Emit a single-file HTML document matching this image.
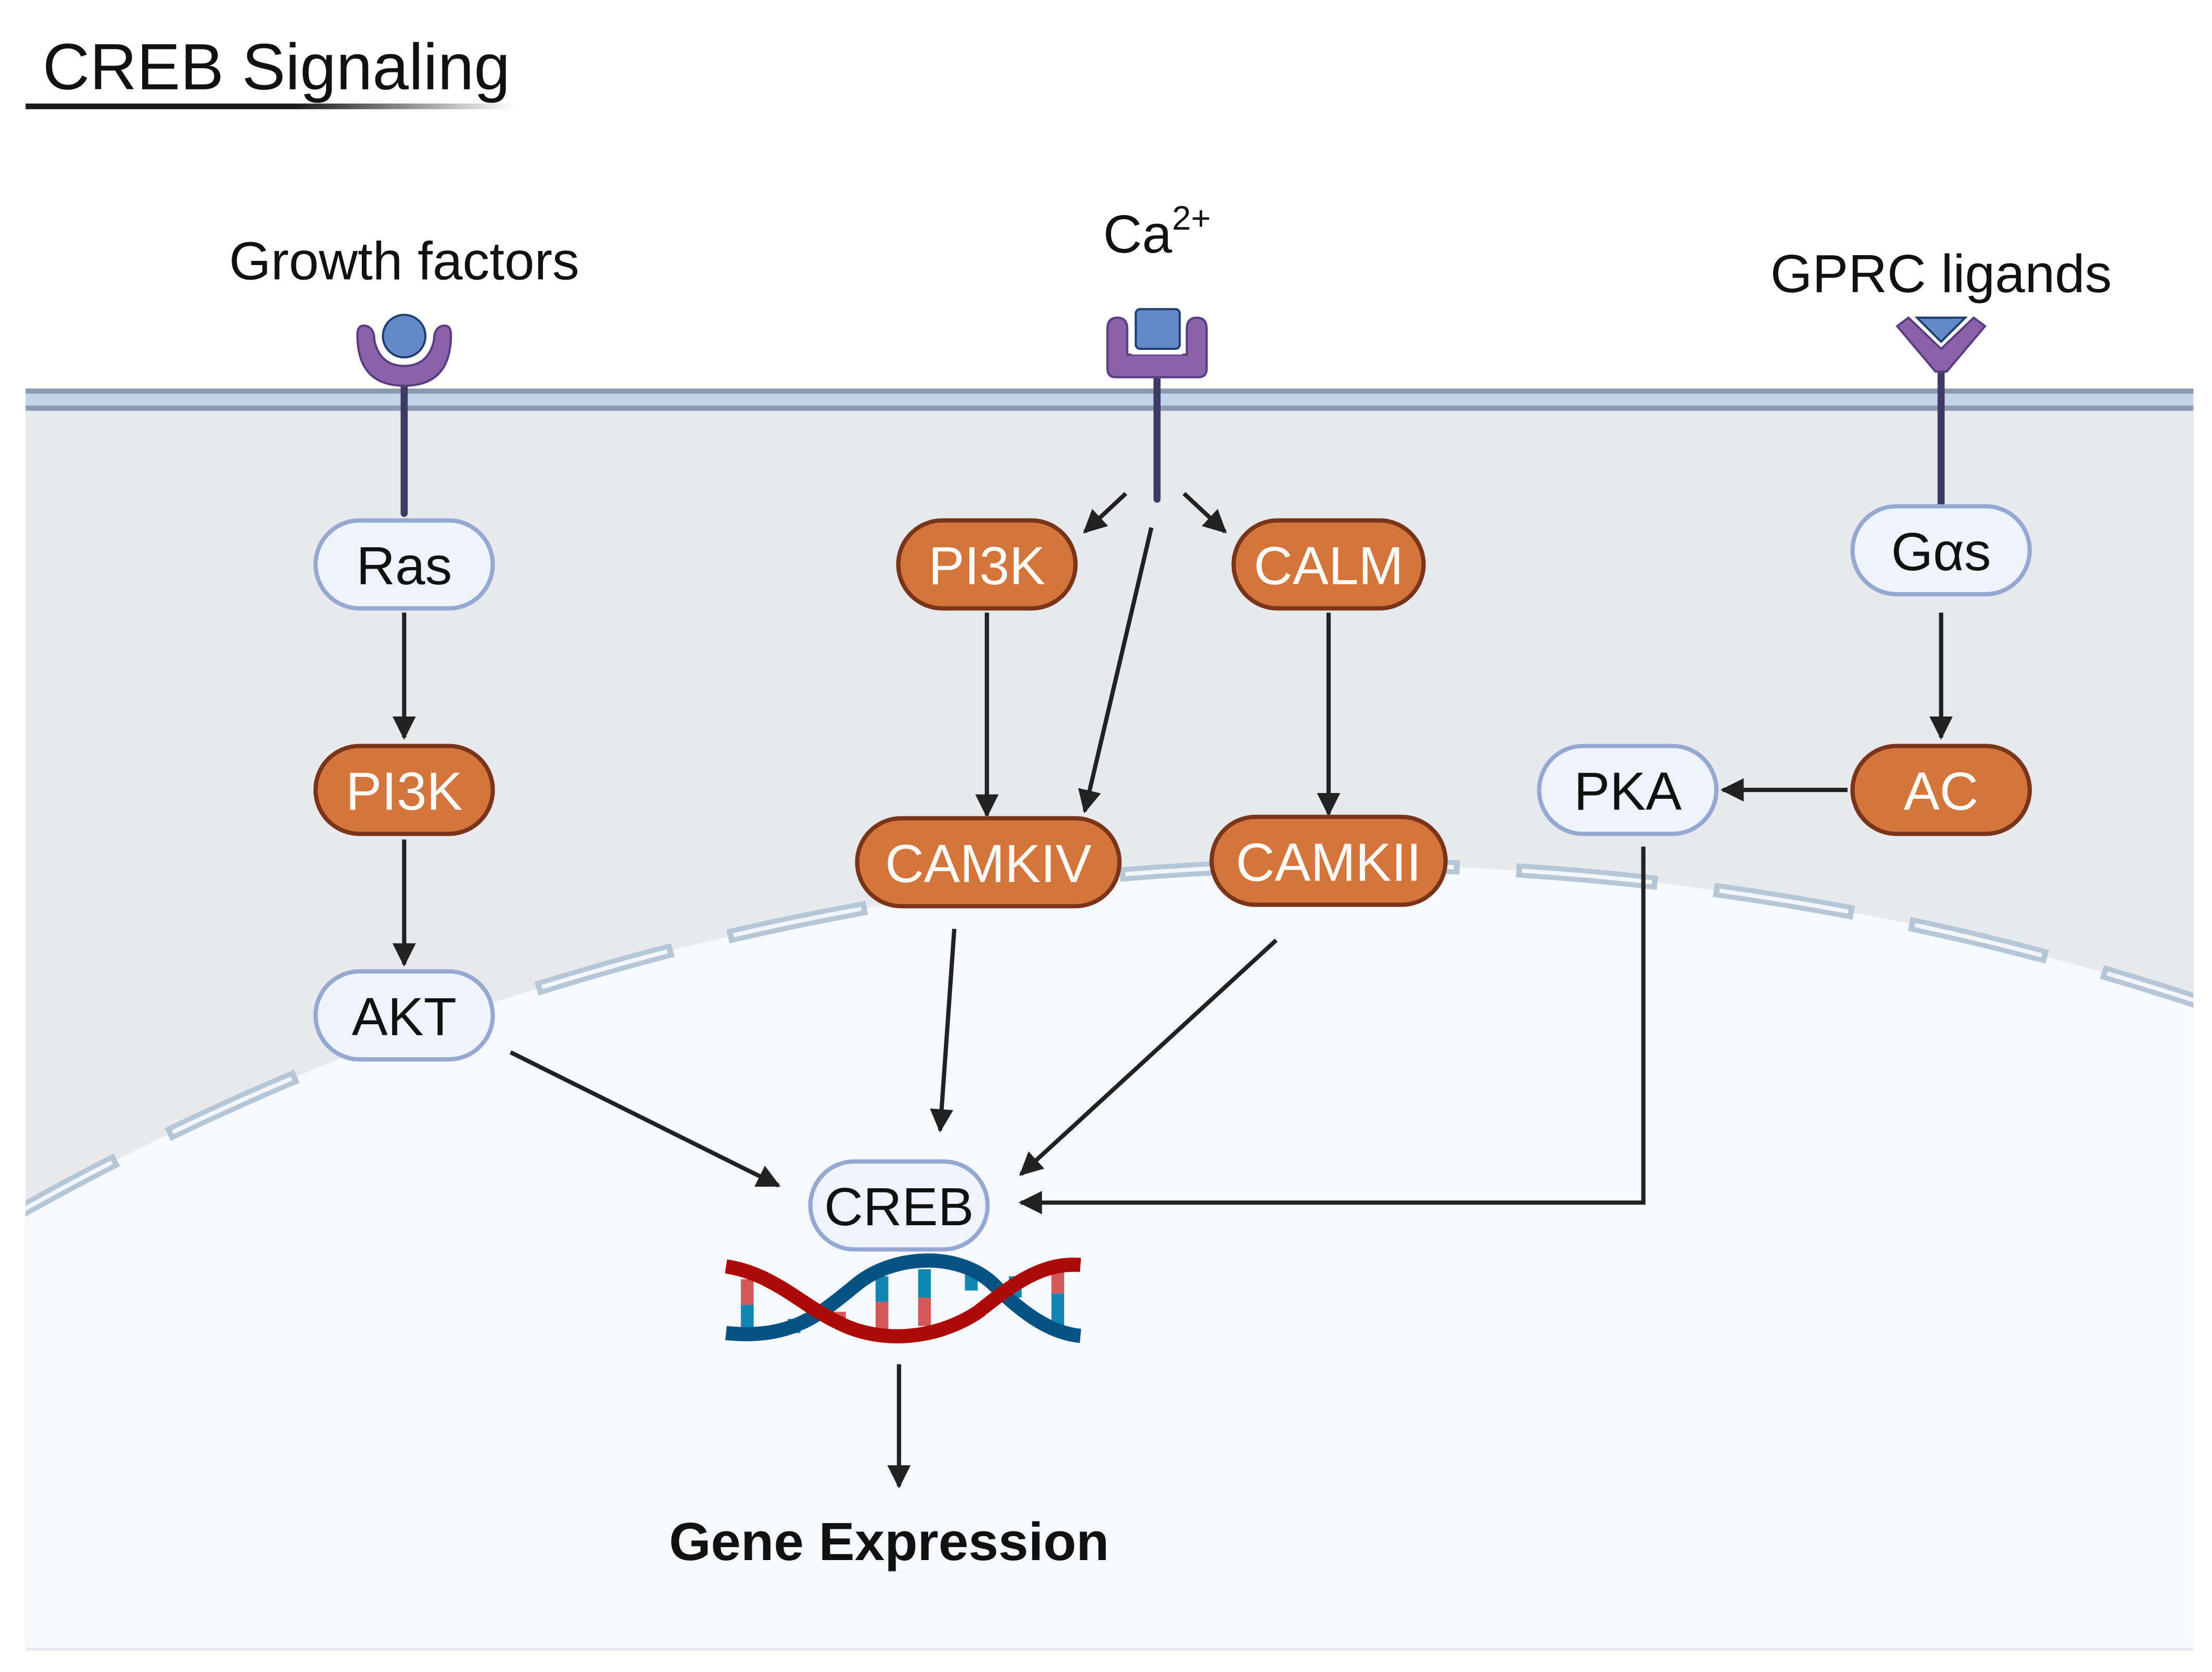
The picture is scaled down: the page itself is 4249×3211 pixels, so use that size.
<!DOCTYPE html>
<html><head><meta charset="utf-8"><style>html,body{margin:0;padding:0;background:#fff;overflow:hidden;width:4249px;height:3211px}svg{display:block;width:4249px;height:3211px}</style></head>
<body>
<svg width="4249" height="3211" viewBox="0 0 1560 1179" xmlns="http://www.w3.org/2000/svg" font-family="'Liberation Sans', sans-serif">
<defs>
<linearGradient id="ul" x1="0" x2="1"><stop offset="0.55" stop-color="#1a1a1a"/><stop offset="1" stop-color="#1a1a1a" stop-opacity="0"/></linearGradient>
<clipPath id="cell"><rect x="18" y="289" width="1529" height="874"/></clipPath>
<marker id="ah" viewBox="0 0 10 10" refX="9" refY="5" markerWidth="5.5" markerHeight="5.5" orient="auto" markerUnits="strokeWidth"><path d="M0,0 L10,5 L0,10 Z" fill="#222"/></marker>
</defs>
<text x="30" y="63" font-size="46" fill="#111">CREB Signaling</text>
<rect x="18" y="73" width="345" height="4" fill="url(#ul)"/>
<rect x="18" y="289" width="1529" height="874" fill="#e8e9ed"/>
<g clip-path="url(#cell)">
<ellipse cx="950" cy="2472" rx="1890" ry="1862" fill="#f6f9fd"/>
<ellipse cx="950" cy="2472" rx="1890" ry="1862" fill="none" stroke="#b5c7d6" stroke-width="10" stroke-dasharray="100 40"/>
<ellipse cx="950" cy="2472" rx="1890" ry="1862" fill="none" stroke="#f2f6fa" stroke-width="3" stroke-dasharray="92 48" stroke-dashoffset="-4"/>
</g>
<line x1="18" y1="1163" x2="1547" y2="1163" stroke="#e6e9ee" stroke-width="2"/>
<rect x="18" y="274" width="1529" height="16" fill="#c3d3e8"/>
<rect x="18" y="274" width="1529" height="3.5" fill="#8a9ab3"/>
<rect x="18" y="286" width="1529" height="3.5" fill="#8a9ab3"/>
<text x="285" y="197" font-size="38" text-anchor="middle" fill="#111">Growth factors</text>
<text x="778" y="178" font-size="38" fill="#111">Ca<tspan font-size="24" dy="-16">2+</tspan></text>
<text x="1369" y="206" font-size="38" text-anchor="middle" fill="#111">GPRC ligands</text>
<g stroke="#3e3a63" stroke-width="5" stroke-linecap="round">
<line x1="285" y1="268" x2="285" y2="362"/>
<line x1="816" y1="264" x2="816" y2="352"/>
<line x1="1369" y1="258" x2="1369" y2="355"/>
</g>
<path d="M252,236 Q252,228 259,230 Q264,232 264,240 Q268,258 285,258 Q302,258 306,240 Q306,232 311,230 Q318,228 318,236 Q318,272 285,272 Q252,272 252,236 Z" fill="#8a62aa" stroke="#5a3c80" stroke-width="1.5"/>
<circle cx="285" cy="238" r="17" fill="#fff"/>
<circle cx="285" cy="237" r="15" fill="#6489c8" stroke="#1f3f70" stroke-width="1.5"/>
<path d="M781,232 Q781,224 788,224 Q795,224 795,232 L795,250 L837,250 L837,232 Q837,224 844,224 Q851,224 851,232 L851,260 Q851,266 845,266 L787,266 Q781,266 781,260 Z" fill="#8a62aa" stroke="#5a3c80" stroke-width="1.5"/>
<rect x="798" y="244" width="36" height="6" fill="#fff"/>
<rect x="801" y="218" width="31" height="28" rx="3" fill="#6489c8" stroke="#1f3f70" stroke-width="1.5"/>
<path d="M1338,230 L1346,224 L1369,246 L1392,224 L1400,230 L1373,262 L1365,262 Z" fill="#8a62aa" stroke="#5a3c80" stroke-width="1.5"/>
<path d="M1352,224 L1386,224 L1369,241 Z" fill="#6489c8" stroke="#1f3f70" stroke-width="1.5"/>
<g stroke="#222" stroke-width="3" fill="none" marker-end="url(#ah)">
<line x1="285" y1="432" x2="285" y2="520"/>
<line x1="285" y1="592" x2="285" y2="680"/>
<line x1="794" y1="348" x2="765" y2="375"/>
<line x1="835" y1="348" x2="864" y2="375"/>
<line x1="812" y1="372" x2="765" y2="572"/>
<line x1="696" y1="432" x2="696" y2="575"/>
<line x1="937" y1="432" x2="937" y2="574"/>
<line x1="1369" y1="432" x2="1369" y2="520"/>
<line x1="1303" y1="557" x2="1215" y2="557"/>
<polyline points="1159,597 1159,848 720,848"/>
<line x1="360" y1="742" x2="549" y2="836"/>
<line x1="673" y1="655" x2="663" y2="797"/>
<line x1="900" y1="663" x2="720" y2="828"/>
<line x1="634" y1="962" x2="634" y2="1048"/>
</g>
<g font-size="38" text-anchor="middle">
<g fill="#eef4fb" stroke="#94a8d2" stroke-width="3">
<rect x="222.5" y="367" width="125" height="62" rx="31"/>
<rect x="222.5" y="685" width="125" height="62" rx="31"/>
<rect x="1306.5" y="357" width="125" height="62" rx="31"/>
<rect x="1085.5" y="526" width="125" height="62" rx="31"/>
<rect x="571.5" y="819" width="125" height="62" rx="31"/>
</g>
<g fill="#d4763b" stroke="#7a3419" stroke-width="3">
<rect x="222.5" y="526" width="125" height="62" rx="31"/>
<rect x="633.5" y="367" width="125" height="62" rx="31"/>
<rect x="870" y="367" width="134" height="62" rx="31"/>
<rect x="604.5" y="577" width="185" height="62" rx="31"/>
<rect x="854.5" y="576" width="165" height="62" rx="31"/>
<rect x="1306.5" y="526" width="125" height="62" rx="31"/>
</g>
<g fill="#111">
<text x="285" y="412">Ras</text>
<text x="285" y="730">AKT</text>
<text x="1369" y="402">Gαs</text>
<text x="1148" y="571">PKA</text>
<text x="634" y="864">CREB</text>
</g>
<g fill="#fff">
<text x="285" y="571">PI3K</text>
<text x="696" y="412">PI3K</text>
<text x="937" y="412">CALM</text>
<text x="697" y="622">CAMKIV</text>
<text x="937" y="621">CAMKII</text>
<text x="1369" y="571">AC</text>
</g>
</g>
<g stroke-width="9">
<line x1="527" y1="902" x2="527" y2="920" stroke="#d45858"/><line x1="527" y1="920" x2="527" y2="940" stroke="#0e88b0"/>
<line x1="560" y1="930" x2="560" y2="940" stroke="#0e88b0"/>
<line x1="592" y1="925" x2="592" y2="935" stroke="#d45858"/>
<line x1="622" y1="900" x2="622" y2="918" stroke="#0e88b0"/><line x1="622" y1="918" x2="622" y2="942" stroke="#d45858"/>
<line x1="652" y1="895" x2="652" y2="915" stroke="#0e88b0"/><line x1="652" y1="915" x2="652" y2="935" stroke="#d45858"/>
<line x1="685" y1="896" x2="685" y2="910" stroke="#0e88b0"/>
<line x1="716" y1="900" x2="716" y2="915" stroke="#0e88b0"/>
<line x1="746" y1="893" x2="746" y2="912" stroke="#d45858"/><line x1="746" y1="912" x2="746" y2="935" stroke="#0e88b0"/>
</g>
<path d="M512,940 C560,945 580,925 605,905 C630,885 675,882 700,905 C720,925 740,940 762,942" fill="none" stroke="#045384" stroke-width="10"/>
<path d="M512,893 C545,898 565,920 590,932 C620,948 660,945 690,925 C715,905 735,890 762,892" fill="none" stroke="#ac0808" stroke-width="10"/>
<text x="627" y="1100" font-size="38" font-weight="bold" text-anchor="middle" fill="#111">Gene Expression</text>
</svg>
</body></html>
